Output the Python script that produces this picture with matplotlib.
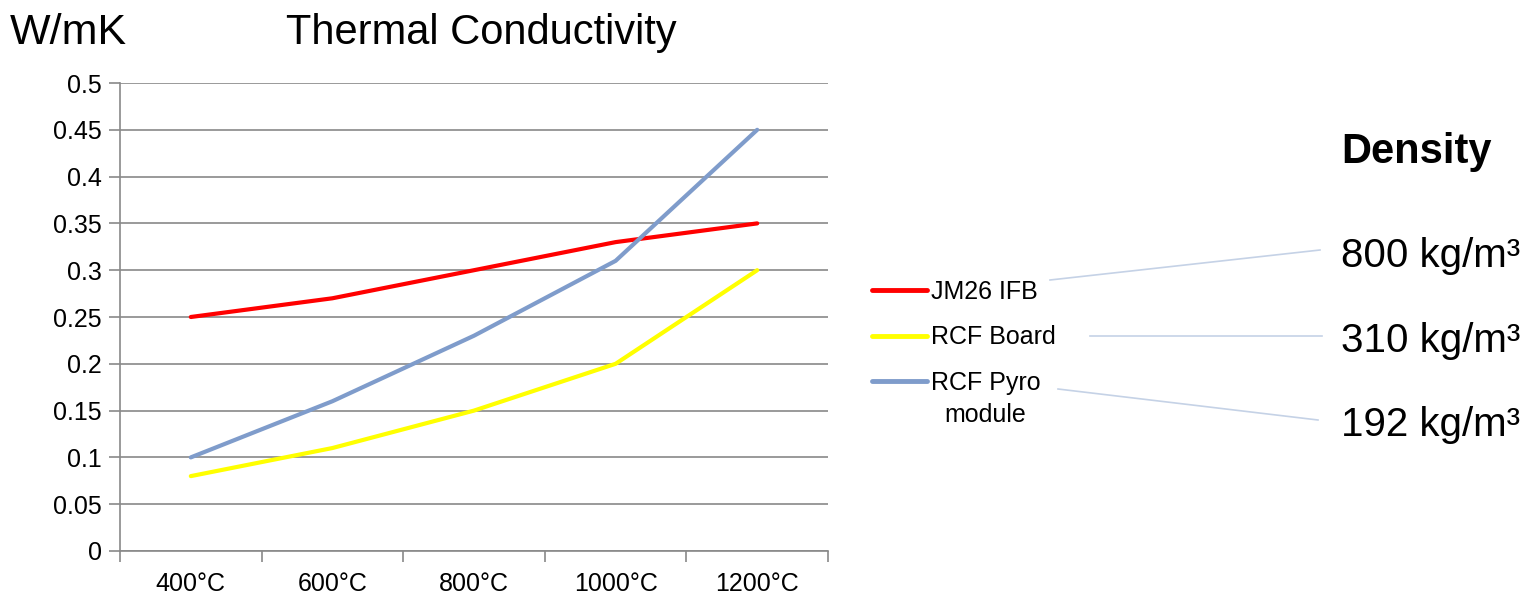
import numpy as np
import matplotlib.pyplot as plt
from matplotlib.lines import Line2D

plt.rcParams['font.family'] = ['Liberation Sans', 'DejaVu Sans']

temps = ['400°C', '600°C', '800°C', '1000°C', '1200°C']
jm26 = [0.25, 0.27, 0.30, 0.33, 0.35]
rcf_board = [0.08, 0.11, 0.15, 0.20, 0.30]
rcf_pyro = [0.10, 0.16, 0.23, 0.31, 0.45]
series_names = ['JM26 IFB', 'RCF Board', 'RCF Pyro\nmodule']
densities = ['800 kg/m³', '310 kg/m³', '192 kg/m³']

grid_col = '#898989'

fig = plt.figure(figsize=(15.37, 5.95), dpi=100)
ax = fig.add_axes([120 / 1537, 1 - 551 / 595, 708 / 1537, 468 / 595])

x = np.arange(len(temps))
ax.plot(x, jm26, color='#FF0000', lw=3, solid_capstyle='round')
ax.plot(x, rcf_board, color='#FFFF00', lw=3, solid_capstyle='round')
ax.plot(x, rcf_pyro, color='#7F9CCB', lw=3, solid_capstyle='round')

ax.set_xlim(-0.5, len(temps) - 0.5)
ax.set_ylim(0, 0.5)
ax.set_yticks(np.arange(0, 0.51, 0.05))
ax.set_yticklabels(['0', '0.05', '0.1', '0.15', '0.2', '0.25', '0.3', '0.35', '0.4', '0.45', '0.5'])
ax.set_xticks(x)
ax.set_xticklabels(temps)
ax.set_xticks(np.arange(-0.5, len(temps), 1), minor=True)
ax.tick_params(axis='x', which='major', length=0, labelsize=18, pad=15)
ax.tick_params(axis='x', which='minor', length=8, color=grid_col, width=1.2)
ax.tick_params(axis='y', length=8, color=grid_col, width=1.2, labelsize=18, pad=5)
ax.yaxis.grid(True, color=grid_col, lw=1.2)
ax.set_axisbelow(True)
for s in ['top', 'right']:
    ax.spines[s].set_visible(False)
for s in ['left', 'bottom']:
    ax.spines[s].set_color(grid_col)
    ax.spines[s].set_linewidth(1.2)

fig.text(10 / 1537, 1 - 33 / 595, 'W/mK', fontsize=31, va='center', ha='left')
fig.text(481 / 1537, 1 - 33 / 595, 'Thermal Conductivity', fontsize=30, va='center', ha='center')

# legend: first line of each name next to the handle, the rest written below
handles = [Line2D([], [], color=l.get_color(), lw=3.5, solid_capstyle='round') for l in ax.get_lines()]
first_lines = [n.split('\n')[0] for n in series_names]
leg = fig.legend(handles, first_lines,
                 loc='upper left', bbox_to_anchor=(862 / 1537, 1 - 270 / 595),
                 frameon=False, fontsize=18, handlelength=2.2, handletextpad=0.15,
                 labelspacing=0.86, borderaxespad=0)
fig.text(985 / 1537, 1 - 415 / 595, series_names[2].split('\n')[1], fontsize=18,
         va='center', ha='center')

fig.text(1417 / 1537, 1 - 152 / 595, 'Density', fontsize=30, fontweight='bold', va='center', ha='center')
dens_y = [256, 341, 425]
for lab, yy in zip(densities, dens_y):
    fig.text(1341 / 1537, 1 - yy / 595, lab, fontsize=29, va='center', ha='left')

conn = [((1050, 280), (1320, 250)), ((1090, 336), (1322, 336)), ((1058, 389), (1318, 420))]
for (x0, y0), (x1, y1) in conn:
    fig.add_artist(Line2D([x0 / 1537, x1 / 1537], [1 - y0 / 595, 1 - y1 / 595],
                          color='#C5D2E6', lw=1.2, transform=fig.transFigure))

fig.savefig('out.png', dpi=100)
